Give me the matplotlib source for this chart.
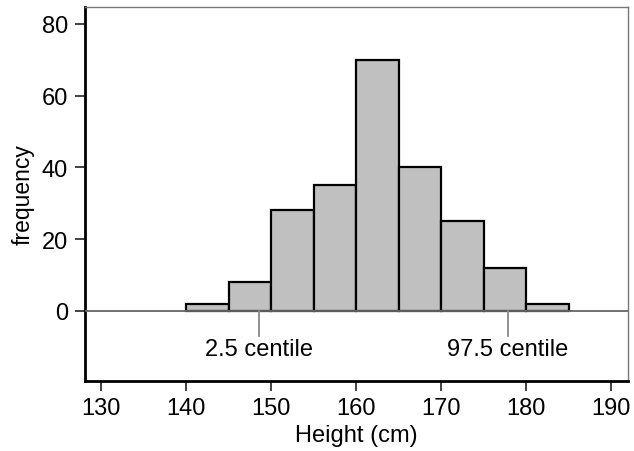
import numpy as np
import matplotlib
matplotlib.use('Agg')
import matplotlib.pyplot as plt

plt.rcParams['font.family'] = ['Liberation Sans', 'DejaVu Sans']

# histogram bins (cm) and frequencies
bin_edges = [140, 145, 150, 155, 160, 165, 170, 175, 180, 185]
counts = [2, 8, 28, 35, 70, 40, 25, 12, 2]

# centile markers
centile_x = [148.6, 177.85]
centile_labels = ['2.5 centile', '97.5 centile']

fig = plt.figure(figsize=(6.34, 4.52), dpi=100)
ax = fig.add_axes([85 / 634, 1 - 381.5 / 452, 543 / 634, 373.5 / 452])

lefts = bin_edges[:-1]
widths = np.diff(bin_edges)
ax.bar(lefts, counts, width=widths, align='edge', color='#c0c0c0',
       edgecolor='black', linewidth=1.6, zorder=2)

ax.axhline(0, color='#666666', linewidth=1.3, zorder=3)
for x, lab in zip(centile_x, centile_labels):
    ax.plot([x, x], [0, -6.9], color='#888888', linewidth=1.3, zorder=3)
    ax.text(x, -7.6, lab, ha='center', va='top', fontsize=17)

ax.set_xlim(128.1, 192)
ax.set_ylim(-19.4, 84.7)
ax.set_xticks(np.arange(130, 191, 10))
ax.set_yticks(np.arange(0, 81, 20))
ax.tick_params(labelsize=17, length=7.2, width=1.2, color='#222222', pad=5)

for s in ['left', 'bottom']:
    ax.spines[s].set_linewidth(2.0)
for s in ['top', 'right']:
    ax.spines[s].set_linewidth(1.0)
    ax.spines[s].set_color('#777777')

ax.set_xlabel('Height (cm)', fontsize=17, labelpad=3)
ax.set_ylabel('frequency', fontsize=16.5, labelpad=5)

fig.savefig('out.png', dpi=100)
